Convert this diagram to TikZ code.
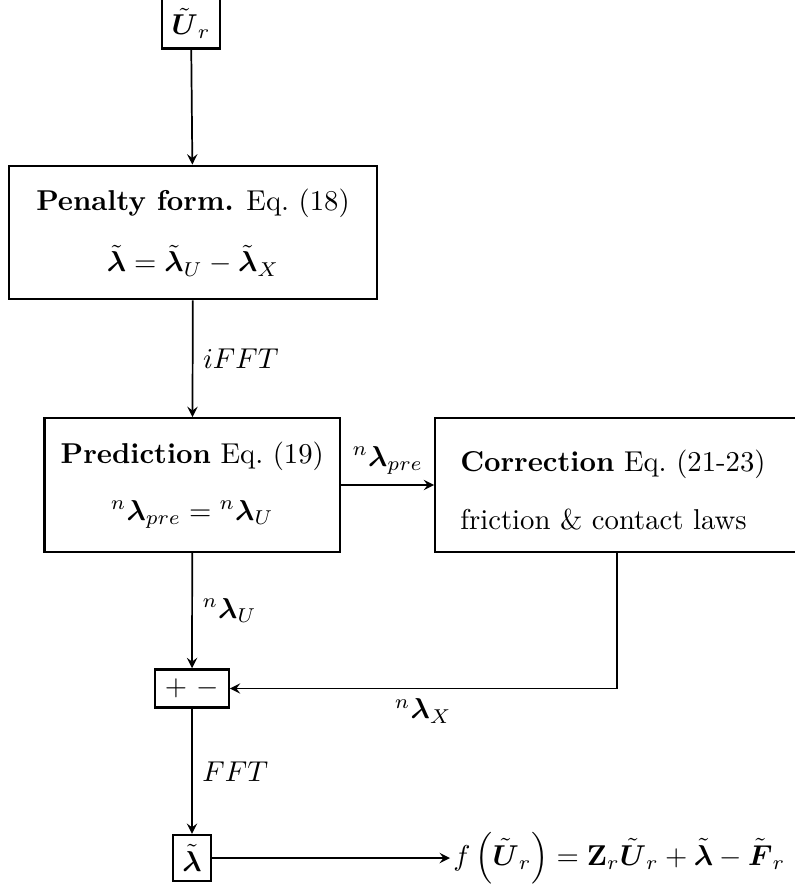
\documentclass[tikz,border=0pt]{standalone}
\usepackage{amssymb}
\usepackage{amsmath}
\newcommand{\blam}{\boldsymbol{\lambda}}
\newcommand{\tUr}{\tilde{\boldsymbol{U}}_r}

\begin{document}
\begin{tikzpicture}[x=0.3484pt,y=-0.3484pt,>=stealth,
	box/.style={draw,thick,align=center,minimum height=46.5pt,
		execute at begin node={\rule{0pt}{11pt}}}]
	\useasboundingbox (0,0) rectangle (794,890);
	% blocks
	\node[draw,thick] (ur) at (191,23.5) {$\tUr$};
	\node[box,minimum width=128pt] (pen) at (193,232.5)
		{\textbf{Penalty form.} Eq.~(18)\\[9.5pt]
		$\tilde{\blam}=\tilde{\blam}_U-\tilde{\blam}_X$};
	\node[box,minimum width=103pt] (pred) at (192.3,485)
		{\textbf{Prediction} Eq.~(19)\\[7.9pt]
		${}^n\blam_{pre}={}^n\blam_U$};
	\node[box,align=left,text width=109pt,inner xsep=8.7pt] (corr) at (616.7,485)
		{\textbf{Correction} Eq.~(21-23)\\[7.9pt]
		friction \& contact laws};
	\node[draw,thick] (pm) at (192,688.5) {$+$ $-$};
	\node[draw,thick] (lt) at (192,858) {$\tilde{\blam}$};
	\node[anchor=west,inner sep=1pt] (res) at (450,858)
		{$f\left(\tUr\right)=\mathbf{Z}_r\tUr+\tilde{\blam}-\tilde{\boldsymbol{F}}_r$};
	% connectors
	\path[->,semithick]
	(ur) edge (pen)
	(pen) edge node[right]{$iFFT$} (pred)
	(pred) edge node[above]{${}^n\blam_{pre}$} (corr)
	(pred) edge node[right]{${}^n\blam_U$} (pm)
	(pm) edge node[right]{$FFT$} (lt)
	(lt) edge (res);
	\draw[->,semithick] (corr.south) |- node[pos=0.75,below]{${}^n\blam_X$} (pm.east);
\end{tikzpicture}
\end{document}
